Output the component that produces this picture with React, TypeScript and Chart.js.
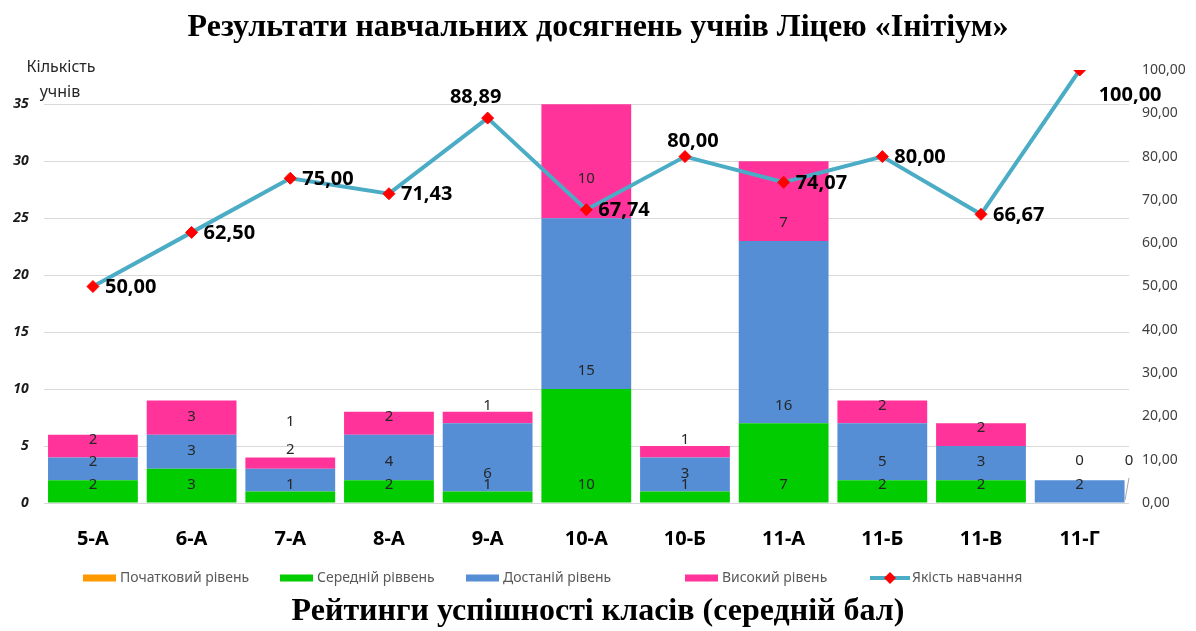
import React, { useEffect, useRef } from 'react';
import { Chart, registerables } from 'chart.js';

Chart.register(...registerables);

// ---- data ----
const classes = ['5-А', '6-А', '7-А', '8-А', '9-А', '10-А', '10-Б', '11-А', '11-Б', '11-В', '11-Г'];
const initialLevel = [0, 0, 0, 0, 0, 0, 0, 0, 0, 0, 0];
const middleLevel = [2, 3, 1, 2, 1, 10, 1, 7, 2, 2, 0];
const sufficientLevel = [2, 3, 2, 4, 6, 15, 3, 16, 5, 3, 2];
const highLevel = [2, 3, 1, 2, 1, 10, 1, 7, 2, 2, 0];
const quality = [50.0, 62.5, 75.0, 71.43, 88.89, 67.74, 80.0, 74.07, 80.0, 66.67, 100.0];

const seriesNames = ['Початковий рівень', 'Середній ріввень', 'Достаній рівень', 'Високий рівень', 'Якість навчання'];
const leftTickMax = 35;
const leftAxisMax = 38;
const rightAxisMax = 100;

// where the quality labels sit relative to their point
const qualityLabelPos = ['right', 'right', 'right', 'right', 'aboveLeft', 'right', 'aboveRight', 'right', 'right', 'right', 'belowRight'];

// segment labels that were moved by hand in the original (value on the left axis)
const segmentLabelOverrides = [
  { series: 2, index: 2, at: 4.7, shift: 0, leader: false },
  { series: 3, index: 2, at: 7.1, shift: 0, leader: false },
  { series: 3, index: 5, at: 28.5, shift: 0, leader: false },
  { series: 1, index: 10, at: 3.7, shift: 0, leader: false },
  { series: 3, index: 10, at: 3.7, shift: 0.5, leader: true },
];

const colors = {
  initial: '#FF9900',
  middle: '#00CC00',
  sufficient: '#558ED5',
  high: '#FF3399',
  line: '#4BACC6',
  marker: '#FF0000',
};

// legend item left edges (layout)
const legendItemX = [83, 280, 466, 685, 870];

const FONT = '"Noto Sans", "Open Sans", sans-serif';
const SERIF = '"Liberation Serif", "Times New Roman", serif';

const fmt = (v: number) => v.toFixed(2).replace('.', ',');

const annotationsPlugin = {
  id: 'annotations',
  afterDatasetsDraw(chart: any) {
    const ctx = chart.ctx as CanvasRenderingContext2D;
    const xs = chart.scales.x;
    const ys = chart.scales.y;
    const series = [initialLevel, middleLevel, sufficientLevel, highLevel];

    // segment labels
    ctx.save();
    ctx.font = `15px ${FONT}`;
    ctx.fillStyle = '#262626';
    ctx.textAlign = 'center';
    ctx.textBaseline = 'middle';
    for (let s = 1; s < series.length; s++) {
      for (let i = 0; i < classes.length; i++) {
        let base = 0;
        for (let k = 0; k < s; k++) base += series[k][i];
        const ov = segmentLabelOverrides.find((o) => o.series === s && o.index === i);
        let px = xs.getPixelForValue(i);
        let py: number;
        if (ov) {
          py = ys.getPixelForValue(ov.at);
          if (ov.shift) px = xs.getPixelForValue(i + ov.shift);
          if (ov.leader) {
            ctx.save();
            ctx.strokeStyle = '#A6A6A6';
            ctx.lineWidth = 1;
            ctx.beginPath();
            ctx.moveTo(px, py + 17);
            ctx.lineTo(px - 4, ys.getPixelForValue(0) - 3);
            ctx.stroke();
            ctx.restore();
          }
        } else {
          if (series[s][i] === 0) continue;
          py = ys.getPixelForValue(base) - 18;
        }
        ctx.fillText(String(series[s][i]), px, py);
      }
    }
    ctx.restore();

    // quality labels
    const meta = chart.getDatasetMeta(4);
    ctx.save();
    ctx.font = `bold 20px ${FONT}`;
    ctx.fillStyle = '#000000';
    ctx.textBaseline = 'middle';
    meta.data.forEach((pt: any, i: number) => {
      const t = fmt(quality[i]);
      const pos = qualityLabelPos[i];
      if (pos === 'right') {
        ctx.textAlign = 'left';
        ctx.fillText(t, pt.x + 12, pt.y + 1);
      } else if (pos === 'aboveLeft') {
        ctx.textAlign = 'center';
        ctx.fillText(t, pt.x - 12, pt.y - 21);
      } else if (pos === 'aboveRight') {
        ctx.textAlign = 'center';
        ctx.fillText(t, pt.x + 8, pt.y - 15);
      } else {
        ctx.textAlign = 'left';
        ctx.fillText(t, pt.x + 19, pt.y + 25);
      }
    });
    ctx.restore();
  },
  afterDraw(chart: any) {
    const ctx = chart.ctx as CanvasRenderingContext2D;
    const area = chart.chartArea;
    // left axis caption
    ctx.save();
    ctx.font = `16px ${FONT}`;
    ctx.fillStyle = '#262626';
    ctx.textAlign = 'center';
    ctx.textBaseline = 'middle';
    ctx.fillText('Кількість', 61, area.top - 3);
    ctx.fillText('учнів', 60, area.top + 22);
    ctx.restore();

    // legend
    ctx.save();
    ctx.font = `14px ${FONT}`;
    ctx.textBaseline = 'middle';
    ctx.textAlign = 'left';
    const ly = area.bottom + 75;
    chart.data.datasets.forEach((ds: any, idx: number) => {
      let lx = legendItemX[idx];
      if (ds.type === 'line') {
        ctx.strokeStyle = ds.borderColor;
        ctx.lineWidth = 4;
        ctx.beginPath();
        ctx.moveTo(lx, ly);
        ctx.lineTo(lx + 40, ly);
        ctx.stroke();
        ctx.fillStyle = ds.pointBackgroundColor;
        ctx.beginPath();
        ctx.moveTo(lx + 20, ly - 6);
        ctx.lineTo(lx + 26, ly);
        ctx.lineTo(lx + 20, ly + 6);
        ctx.lineTo(lx + 14, ly);
        ctx.closePath();
        ctx.fill();
        lx += 42;
      } else {
        ctx.fillStyle = ds.backgroundColor;
        ctx.fillRect(lx, ly - 3.5, 33, 7);
        lx += 37;
      }
      ctx.fillStyle = '#595959';
      ctx.fillText(ds.label, lx, ly);
    });
    ctx.restore();
  },
};

export default function App() {
  const ref = useRef<HTMLCanvasElement | null>(null);

  useEffect(() => {
    if (!ref.current) return;
    const barBase = {
      type: 'bar' as const,
      stack: 'levels',
      yAxisID: 'y',
      order: 1,
      barPercentage: 0.91,
      categoryPercentage: 1,
      borderWidth: 0,
    };
    const chart = new Chart(ref.current, {
      type: 'bar',
      data: {
        labels: classes,
        datasets: [
          { ...barBase, label: seriesNames[0], data: initialLevel, backgroundColor: colors.initial },
          { ...barBase, label: seriesNames[1], data: middleLevel, backgroundColor: colors.middle },
          { ...barBase, label: seriesNames[2], data: sufficientLevel, backgroundColor: colors.sufficient },
          { ...barBase, label: seriesNames[3], data: highLevel, backgroundColor: colors.high },
          {
            type: 'line' as const,
            label: seriesNames[4],
            data: quality,
            yAxisID: 'y1',
            order: 0,
            borderColor: colors.line,
            borderWidth: 4,
            pointStyle: 'rectRot',
            pointRadius: 6,
            pointBackgroundColor: colors.marker,
            pointBorderColor: colors.marker,
            pointBorderWidth: 1,
            tension: 0,
          } as any,
        ],
      },
      options: {
        animation: false,
        responsive: true,
        maintainAspectRatio: false,
        devicePixelRatio: 1,
        layout: { padding: 0 },
        plugins: {
          legend: { display: false },
          tooltip: { enabled: false },
          title: {
            display: true,
            text: 'Результати навчальних досягнень учнів Ліцею «Інітіум»',
            font: { family: SERIF, size: 32, weight: 'bold' },
            color: '#000000',
            padding: { top: 9, bottom: 22.6 },
          },
          subtitle: {
            display: true,
            position: 'bottom',
            text: 'Рейтинги успішності класів (середній бал)',
            font: { family: SERIF, size: 32, weight: 'bold' },
            color: '#000000',
            padding: { top: 0, bottom: 0 },
          },
        },
        scales: {
          x: {
            stacked: true,
            grid: { display: false },
            border: { display: false },
            ticks: {
              color: '#000000',
              font: { family: FONT, size: 20, weight: 'bold' },
              padding: 16,
            },
            afterFit: (scale: any) => {
              scale.height = 89.6;
            },
          },
          y: {
            stacked: true,
            position: 'left',
            min: 0,
            max: leftAxisMax,
            ticks: {
              stepSize: 5,
              color: '#1a1a1a',
              font: { family: FONT, size: 14, weight: 'bold', style: 'italic' },
              padding: 15,
            },
            grid: { color: '#D9D9D9', lineWidth: 1, drawTicks: false },
            border: { display: false },
            afterBuildTicks: (axis: any) => {
              axis.ticks = axis.ticks.filter((t: any) => t.value <= leftTickMax);
            },
            afterFit: (scale: any) => {
              scale.width = 43.6;
            },
          },
          y1: {
            position: 'right',
            min: 0,
            max: rightAxisMax,
            ticks: {
              stepSize: 10,
              color: '#404040',
              font: { family: FONT, size: 14 },
              padding: 13,
              callback: (v: any) => fmt(Number(v)),
            },
            grid: { display: false, drawTicks: false },
            border: { display: false },
            afterFit: (scale: any) => {
              scale.width = 67;
            },
          },
        },
      },
      plugins: [annotationsPlugin],
    });
    return () => chart.destroy();
  }, []);

  return (
    <div style={{ position: 'absolute', left: 0, top: 0, width: 1196, height: 631, background: '#ffffff' }}>
      <canvas ref={ref} />
    </div>
  );
}
